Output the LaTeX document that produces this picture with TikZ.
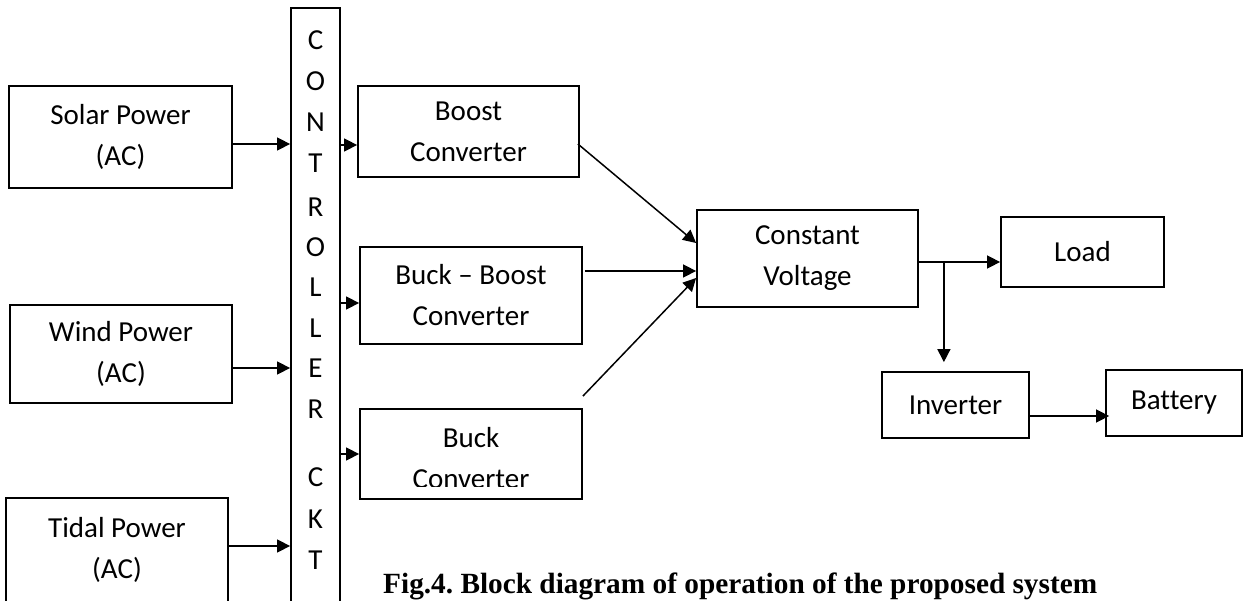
\documentclass[tikz,border=0pt]{standalone}
\usepackage{fontspec}
\setmainfont{Carlito}[Ligatures={TeX,NoCommon}]
\newfontfamily\capfont{Liberation Serif}
\usetikzlibrary{arrows.meta, calc, positioning}
\frenchspacing

\tikzset{
    blk/.style={draw, line width=1.8pt, inner sep=0pt, align=center, font=\fontsize{29}{41}\selectfont},
    lettr/.style={inner sep=0pt, font=\fontsize{29}{41}\selectfont},
    arr/.style={line width=1.5pt, -{Triangle[length=13pt, width=13pt]}},
}

\begin{document}
\begin{tikzpicture}[x=1pt, y=1pt]
    \useasboundingbox (0,0) rectangle (1246,600);
    \clip (0,0) rectangle (1246,600);

    % Power sources
    \node (solar) [blk, minimum width=223pt, minimum height=102pt] at (120.5,463) {Solar Power\\(AC)};
    \node (wind) [blk, minimum width=222pt, minimum height=98pt] at (121,246) {Wind Power\\(AC)};
    \node (tidal) [blk, minimum width=222pt, minimum height=104pt] at (117,50) {Tidal Power\\(AC)};

    % Controller circuit
    \node (ctl) [draw, line width=1.8pt, minimum width=49pt, minimum height=607pt] at (315.5,288.5) {};
    \foreach \ch/\yy [count=\i] in {C/560, O/519, N/478, T/437, R/393, O/353, L/313, L/272, E/232, R/191, C/123, K/81, T/40}
        \node (ckt\i) [lettr] at (315.5,\yy) {\ch};

    % Converters
    \node (boost) [blk, minimum width=221pt, minimum height=91pt] at (468.5,468.5) {Boost\\Converter};
    \node (bb) [blk, minimum width=222pt, minimum height=97pt] at (471,304.5) {Buck – Boost\\Converter};
    \node (buck) [blk, minimum width=222pt, minimum height=90pt] at (471,146) {};
    \begin{scope}
        \clip ($(buck.south west)+(0,13)$) rectangle (buck.north east);
        \node (bucktext) [lettr, align=center] at ($(buck.center)+(0,-4.5)$) {Buck\\Converter};
    \end{scope}

    % Output side
    \node (cv) [blk, minimum width=221pt, minimum height=97pt] at (807.5,341.5) {Constant\\Voltage};
    \node (load) [blk, minimum width=163pt, minimum height=70pt] at (1082.5,348) {Load};
    \node (inv) [blk, minimum width=147pt, minimum height=66pt] at (955.5,195) {Inverter};
    \node (bat) [blk, minimum width=136pt, minimum height=66pt] at (1174,197) {Battery};

    % Sources into the controller
    \coordinate (solar-out) at ($(solar.east)+(0,-7)$);
    \coordinate (wind-out) at ($(wind.east)+(0,-14)$);
    \coordinate (tidal-out) at ($(tidal.east)+(0,4)$);
    \draw[arr] (solar-out) -- (solar-out -| ctl.west);
    \draw[arr] (wind-out) -- (wind-out -| ctl.west);
    \draw[arr] (tidal-out) -- (tidal-out -| ctl.west);

    % Controller into the converters
    \coordinate (boost-in) at ($(boost.west)+(0,-13.5)$);
    \coordinate (bb-in) at ($(bb.west)+(0,-7.5)$);
    \draw[arr] (boost-in -| ctl.east) -- (boost-in);
    \draw[arr] (bb-in -| ctl.east) -- (bb-in);
    \draw[arr] (buck.west -| ctl.east) -- (buck.west);

    % Converters into constant voltage
    \coordinate (bb-out) at ($(bb.east)+(2,24.5)$);
    \draw[arr] ($(boost.east)+(-2,-12.5)$) -- ($(cv.west)+(0,15.5)$);
    \draw[arr] (bb-out) -- (bb-out -| cv.west);
    \draw[arr] ($(buck.north east)+(0,12)$) -- ($(cv.west)+(0,-19.5)$);

    % Load, inverter and battery
    \coordinate (cv-out) at ($(cv.east)+(0,-3.5)$);
    \coordinate (tap) at ($(cv-out)+(25,0)$);
    \coordinate (inv-out) at ($(inv.east)+(0,-11)$);
    \draw[arr] (cv-out) -- (cv-out -| load.west);
    \draw[arr] (tap) -- ($(tap |- inv.north)+(0,9)$);
    \draw[arr] (inv-out) -- ($(inv-out -| bat.west)+(4,0)$);

    % Caption
    \node (caption) [anchor=base west, inner sep=0pt, font=\capfont\bfseries\fontsize{29.3}{35}\selectfont] at (383,7) {Fig.4. Block diagram of operation of the proposed system};

\end{tikzpicture}
\end{document}
